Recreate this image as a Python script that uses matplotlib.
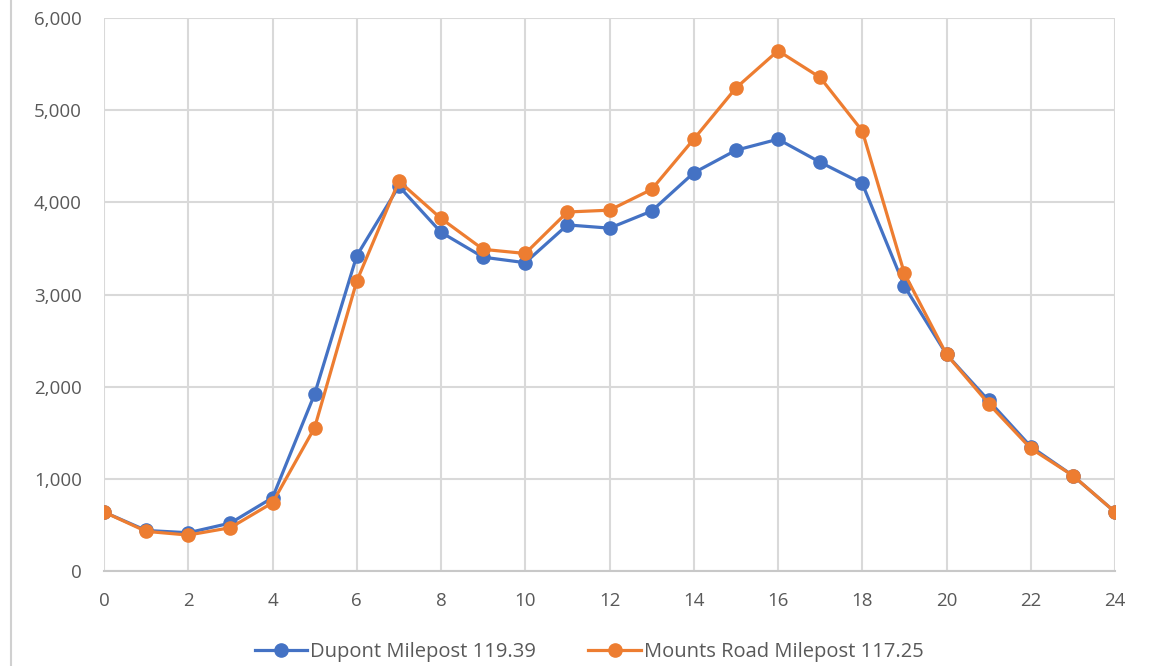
import matplotlib
matplotlib.use("Agg")
import matplotlib.pyplot as plt
from matplotlib.lines import Line2D
from matplotlib.ticker import FuncFormatter, MultipleLocator

hours = list(range(25))
dupont = [640, 440, 415, 520, 795, 1920, 3420, 4175, 3675, 3405, 3345, 3755, 3720, 3905,
          4320, 4565, 4685, 4435, 4205, 3090, 2350, 1850, 1350, 1035, 640]
mounts = [640, 430, 390, 470, 740, 1555, 3145, 4230, 3825, 3490, 3445, 3895, 3915, 4140,
          4685, 5240, 5645, 5355, 4775, 3230, 2350, 1815, 1330, 1035, 640]
series_names = ["Dupont Milepost 119.39", "Mounts Road Milepost 117.25"]

plt.rcParams['font.family'] = ['Open Sans', 'DejaVu Sans']

fig = plt.figure(figsize=(11.53, 6.66), dpi=100)
ax = fig.add_axes([104/1153, 1-571/666, (1115-104)/1153, (571-18)/666])

ax.plot(hours, dupont, color='#4472C4', lw=2.3, marker='o', ms=9.5, label=series_names[0], zorder=3)
ax.plot(hours, mounts, color='#ED7D31', lw=2.3, marker='o', ms=9.5, label=series_names[1], zorder=4)

ax.set_xlim(0, 24)
ax.set_ylim(0, 6000)
ax.xaxis.set_major_locator(MultipleLocator(2))
ax.yaxis.set_major_locator(MultipleLocator(1000))
ax.yaxis.set_major_formatter(FuncFormatter(lambda v, p: f"{int(v):,}"))
ax.grid(True, color='#d9d9d9', lw=1.5)
ax.set_axisbelow(True)
for s in ['top', 'right', 'left']:
    ax.spines[s].set_visible(False)
ax.spines['bottom'].set_color('#c8c8c8')
ax.spines['bottom'].set_linewidth(1.5)
ax.tick_params(axis='both', length=0, labelsize=13.5, colors='#595959')
ax.tick_params(axis='y', pad=16)
ax.tick_params(axis='x', pad=15)

fig.legend(loc='center', bbox_to_anchor=(0.511, 0.021), ncol=2, frameon=False,
           fontsize=14.5, labelcolor='#595959', handlelength=2.6, columnspacing=2.6,
           handletextpad=0.15)

fig.add_artist(Line2D([11/1153, 11/1153], [0, 1], color='#d0d0d0', lw=1.5))

fig.savefig("out.png", dpi=100)
